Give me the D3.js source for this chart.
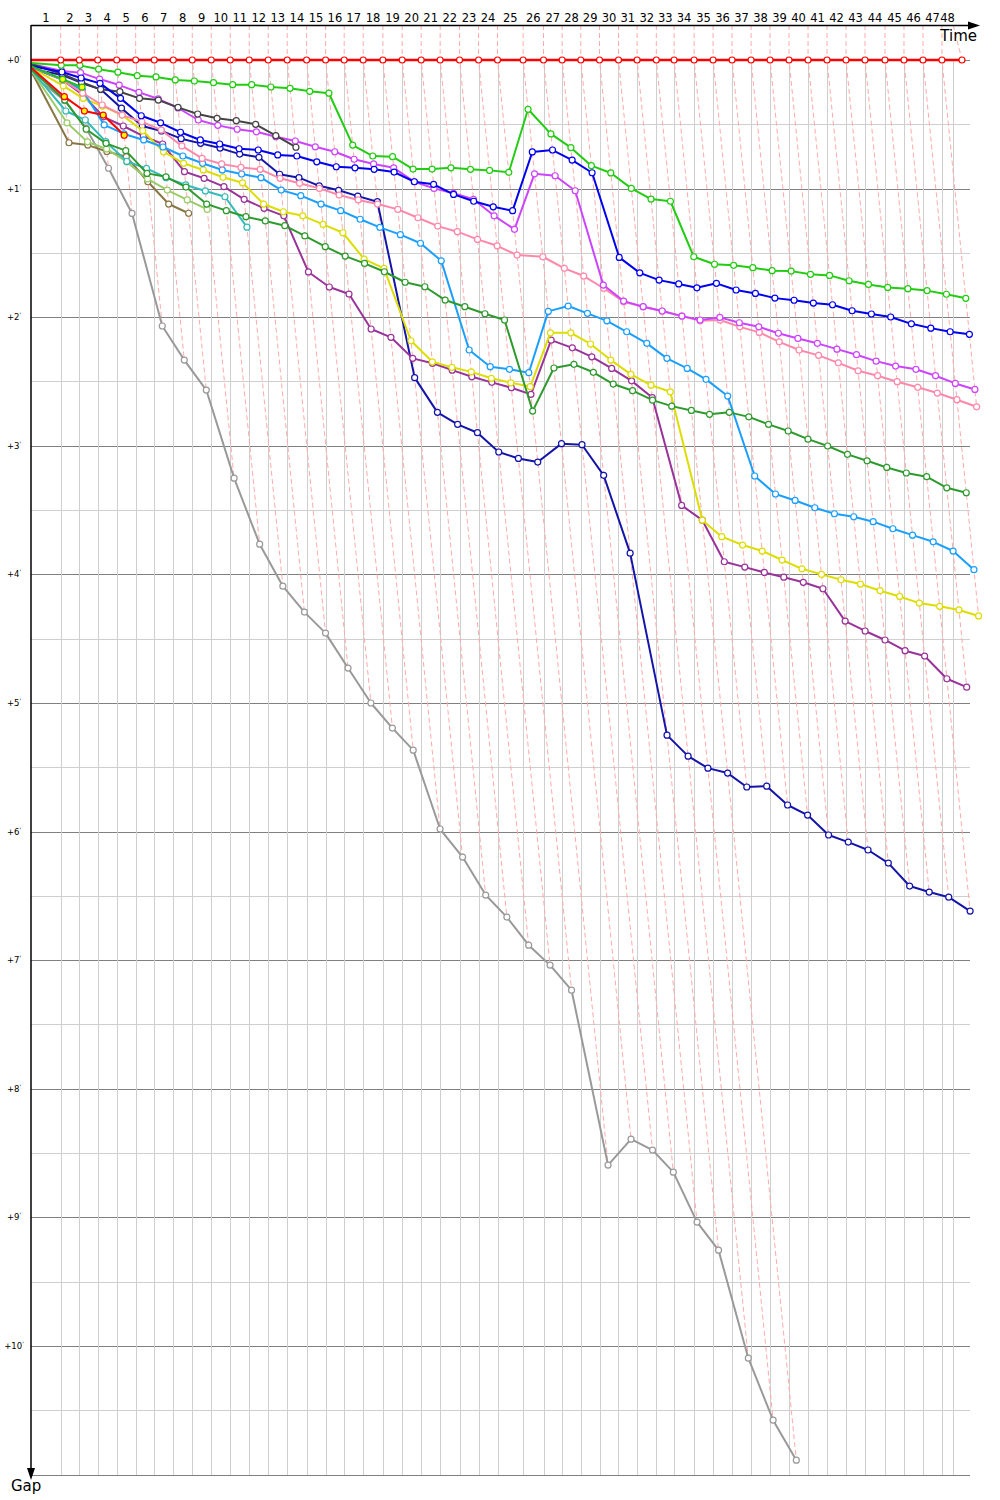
<!DOCTYPE html>
<html>
<head>
<meta charset="utf-8">
<script src="https://cdn.jsdelivr.net/npm/d3@7"></script>
<style>
  body { margin: 0; background: #fff; }
  svg { display: block; font-family: "DejaVu Sans", Verdana, sans-serif; }
</style>
</head>
<body>
<svg id="chart" width="1000" height="1500"></svg>
<script>
// leader lap durations in seconds (lap 1 .. 48)
const leaderLaps = [138.6, 86.8, 85.8, 88.6, 88.6, 86.8, 88.6, 88.6, 88.6, 88.6, 88.6, 88.6, 88.6, 90.5, 88.6, 86.8,
    88.6, 91.9, 90.0, 88.6, 88.6, 90.5, 88.6, 88.6, 119.4, 95.2, 86.8, 87.2, 87.2, 88.6, 86.8, 89.6, 83.0, 93.3,
    88.6, 88.6, 88.6, 88.6, 88.6, 88.6, 88.6, 88.6, 88.6, 93.3, 88.6, 88.6, 88.6, 93.3];
// time of the last grid line (s)
const finishTick = 4303;
const gapMinutes = [0, 1, 2, 3, 4, 5, 6, 7, 8, 9, 10];
const lapNumbers = d3.range(1, 49);

// gap to the leader in seconds, index = lap (0 = start)
const gapLeader = [0, 0, 0, 0, 0, 0, 0, 0, 0, 0, 0, 0, 0, 0, 0, 0, 0, 0, 0, 0, 0, 0, 0, 0, 0, 0, 0, 0, 0, 0, 0, 0, 0,
    0, 0, 0, 0, 0, 0, 0, 0, 0, 0, 0, 0, 0, 0, 0, 0];
const gapGreen = [1.4, 2.5, 2.5, 4.3, 5.7, 7.3, 7.9, 9.3, 9.8, 10.6, 11.5, 11.5, 12.6, 13.2, 14.6, 15.5, 39.7, 44.8,
    45.1, 50.9, 50.9, 50.3, 51.0, 51.5, 52.4, 23.0, 34.5, 40.9, 49.3, 52.7, 59.9, 64.9, 65.9, 91.8, 95.3, 95.8,
    96.9, 98.3, 98.5, 100.0, 100.5, 103.0, 104.7, 106.1, 106.7, 107.6, 109.3, 111.2];
const gapBlue = [2.8, 5.6, 8.4, 10.9, 17.9, 26.0, 29.3, 33.7, 37.3, 39.2, 41.4, 42.0, 44.3, 44.8, 47.5, 49.8, 50.3,
    51.0, 52.3, 56.8, 58.0, 62.7, 65.9, 68.5, 70.3, 42.9, 42.0, 46.7, 52.6, 92.1, 99.3, 102.7, 104.5, 106.3, 104.2,
    107.3, 108.9, 111.1, 112.1, 113.4, 114.2, 117.0, 118.5, 119.9, 123.1, 125.1, 126.8, 128.0];
const gapMagenta = [1.9, 5.1, 5.9, 8.9, 11.7, 15.1, 18.1, 22.4, 28.0, 30.5, 32.3, 33.5, 35.8, 37.8, 40.5, 42.8, 46.3,
    48.5, 50.3, 56.8, 59.9, 62.2, 65.0, 72.7, 79.0, 53.1, 54.0, 61.0, 105.0, 112.5, 115.1, 117.1, 119.5, 121.3,
    120.1, 122.6, 124.5, 127.5, 129.9, 132.2, 134.9, 137.5, 140.5, 142.8, 144.3, 147.3, 150.9, 153.7];
const gapPink = [2.8, 9.3, 15.5, 21.0, 25.7, 28.8, 32.7, 40.1, 45.9, 48.5, 50.1, 51.0, 55.2, 57.5, 59.9, 63.0, 65.3,
    67.2, 69.7, 73.6, 77.5, 80.1, 83.7, 86.7, 91.0, 91.8, 97.2, 100.8, 106.5, 112.8, 115.1, 117.1, 119.5, 121.7,
    121.3, 124.5, 127.1, 131.5, 135.3, 137.8, 141.3, 145.0, 147.3, 150.1, 152.7, 155.4, 158.5, 161.8];
const gapDarkGreen = [4.7, 18.7, 32.3, 38.9, 42.3, 52.9, 54.5, 59.3, 67.2, 70.3, 73.1, 75.1, 77.3, 82.1, 87.1, 91.5,
    94.9, 98.8, 103.7, 105.8, 112.0, 115.1, 118.4, 121.3, 163.8, 143.7, 142.0, 145.7, 151.2, 154.3, 158.7, 161.5,
    163.5, 165.3, 164.4, 166.5, 170.0, 173.1, 176.9, 180.1, 184.0, 187.0, 190.1, 192.7, 194.4, 199.6, 201.9];
const gapLightBlue = [3.3, 9.3, 14.0, 30.3, 34.5, 37.3, 40.6, 44.8, 48.2, 51.3, 53.2, 54.9, 60.7, 63.3, 67.2, 70.3,
    74.3, 78.1, 81.5, 85.5, 93.7, 135.3, 143.1, 144.3, 145.9, 117.3, 114.8, 118.2, 121.7, 126.8, 132.2, 139.2,
    143.9, 149.0, 156.8, 194.1, 202.5, 205.5, 208.9, 211.7, 213.1, 215.4, 218.7, 221.7, 224.8, 229.1, 237.8];
const gapYellow = [3.7, 12.1, 17.9, 21.5, 25.7, 33.0, 42.8, 48.2, 51.3, 54.7, 57.3, 67.2, 70.8, 72.7, 76.7, 80.6,
    92.9, 97.2, 131.0, 140.8, 143.4, 145.5, 148.5, 150.6, 152.4, 127.3, 127.3, 132.5, 140.0, 146.7, 151.7, 154.8,
    214.7, 222.4, 226.3, 229.1, 233.3, 237.4, 240.0, 242.5, 244.5, 247.6, 250.3, 253.4, 254.9, 256.6, 259.4];
const gapPurple = [3.7, 9.3, 16.3, 26.5, 30.8, 35.5, 39.2, 52.1, 55.2, 59.1, 65.0, 69.2, 72.7, 98.9, 105.9, 109.2,
    125.5, 129.4, 139.2, 141.5, 144.7, 147.8, 150.4, 152.9, 156.0, 130.7, 134.3, 138.5, 143.9, 149.7, 157.5, 207.8,
    214.7, 234.1, 236.6, 239.1, 241.3, 243.7, 246.7, 261.8, 266.4, 270.6, 275.6, 278.1, 288.7, 292.6];
const gapNavy = [4.2, 7.0, 10.7, 13.7, 22.5, 30.8, 33.1, 36.7, 38.9, 41.1, 43.9, 45.4, 53.3, 54.9, 58.7, 60.8, 63.5,
    66.1, 148.2, 164.4, 170.0, 173.9, 182.9, 185.9, 187.6, 179.0, 179.5, 193.8, 230.1, 315.0, 324.8, 330.4, 332.7,
    339.2, 338.8, 347.6, 352.3, 361.6, 364.9, 368.6, 374.7, 385.4, 388.2, 390.6, 397.1];
const gapGrey = [7.0, 19.0, 31.9, 50.5, 71.6, 124.1, 140.0, 154.0, 195.1, 225.9, 245.5, 257.6, 267.4, 283.7, 300.0,
    311.7, 322.0, 358.8, 371.9, 389.6, 399.9, 413.0, 422.3, 434.0, 515.6, 503.5, 508.6, 518.9, 542.2, 555.3, 605.7,
    634.6, 653.3];
const gapBlack = [1.9, 6.5, 10.4, 13.7, 14.8, 17.9, 18.7, 22.1, 25.2, 27.2, 28.3, 30.0, 35.3, 40.7];
const gapOlive = [6.2, 38.6, 39.7, 42.7, 45.1, 56.8, 67.2, 71.5];
const gapLightGreen = [5.5, 29.3, 38.2, 41.5, 47.6, 55.5, 60.7, 65.3, 69.7];
const gapTeal = [5.0, 23.8, 28.0, 38.1, 47.3, 50.6, 54.9, 58.3, 61.1, 63.8, 78.0];
const gapRedYellow = [3.9, 17.1, 23.8, 25.7, 35.1];
const gapGreenYellow = [3.0, 9.0, 12.7];

// drawn bottom to top
const drivers = [
    { gaps: gapGrey, color: "#999999", fill: "#fff" },
    { gaps: gapOlive, color: "#887744", fill: "#fff" },
    { gaps: gapLightGreen, color: "#99cc66", fill: "#fff" },
    { gaps: gapTeal, color: "#33bbbb", fill: "#fff" },
    { gaps: gapNavy, color: "#1414aa", fill: "#fff" },
    { gaps: gapPurple, color: "#993399", fill: "#fff" },
    { gaps: gapYellow, color: "#dddd00", fill: "#fff" },
    { gaps: gapLightBlue, color: "#1a9fff", fill: "#fff" },
    { gaps: gapDarkGreen, color: "#2e9a2e", fill: "#fff" },
    { gaps: gapPink, color: "#ff88aa", fill: "#fff" },
    { gaps: gapMagenta, color: "#cc44ff", fill: "#fff" },
    { gaps: gapBlack, color: "#444444", fill: "#fff" },
    { gaps: gapBlue, color: "#0000ee", fill: "#fff" },
    { gaps: gapGreenYellow, color: "#22bb22", fill: "#ffff00" },
    { gaps: gapRedYellow, color: "#ff0000", fill: "#ffff00" },
    { gaps: gapGreen, color: "#22cc11", fill: "#fff" },
    { gaps: gapLeader, color: "#ff0000", fill: "#fff", leader: true }
];

const leaderTimes = [0].concat(Array.from(d3.cumsum(leaderLaps)));
const lapTicks = leaderTimes.slice(1, 48).concat([finishTick]);

const svg = d3.select("#chart");
const axisX = 31, axisTop = 25, plotBottom = 1475, plotRight = 970;

const x = d3.scaleLinear().domain([0, 4400]).range([axisX, axisX + 4400 * 0.21433]);
const y = d3.scaleLinear().domain([0, 660]).range([60, 60 + 660 * 2.1433]);

// horizontal grid (half minutes light, minutes dark)
const halfTicks = d3.range(0, 661, 30);
svg.append("g").selectAll("line").data(halfTicks).enter().append("line")
    .attr("x1", axisX).attr("x2", plotRight)
    .attr("y1", d => Math.round(y(d)) + 0.5).attr("y2", d => Math.round(y(d)) + 0.5)
    .attr("stroke", d => d % 60 === 0 ? "#808080" : "#cfcfcf")
    .attr("stroke-width", 1);

// vertical lap grid
svg.append("g").selectAll("line").data(lapTicks).enter().append("line")
    .attr("x1", d => Math.round(x(d)) + 0.5).attr("x2", d => Math.round(x(d)) + 0.5)
    .attr("y1", 60).attr("y2", plotBottom)
    .attr("stroke", "#cfcfcf").attr("stroke-width", 1);

// points of every driver
drivers.forEach(dr => {
    dr.points = dr.gaps.map((g, lap) => ({ lap: lap, gap: g, px: x(leaderTimes[lap] + g), py: y(g) }));
});

// dashed lap lines joining the cars on the same lap
const lapLine = d3.line().x(d => d[0]).y(d => d[1]);
const dashG = svg.append("g");
lapNumbers.forEach(n => {
    const pts = [];
    drivers.forEach(dr => { if (dr.points[n]) pts.push(dr.points[n]); });
    pts.sort((a, b) => a.gap - b.gap);
    const coords = [[x(lapTicks[n - 1]), axisTop]].concat(pts.map(p => [p.px, p.py]));
    dashG.append("path")
        .attr("d", lapLine(coords))
        .attr("fill", "none")
        .attr("stroke", "#ffaaaa")
        .attr("stroke-width", 1)
        .attr("stroke-dasharray", "5,3");
});

// driver lines
const seriesG = svg.append("g");
drivers.forEach(dr => {
    seriesG.append("path")
        .datum(dr.points)
        .attr("d", d3.line().x(d => d.px).y(d => d.py))
        .attr("fill", "none")
        .attr("stroke", dr.color)
        .attr("stroke-width", dr.leader ? 2.6 : 2)
        .attr("stroke-linejoin", "round");
    seriesG.append("g").selectAll("circle").data(dr.points.slice(1)).enter().append("circle")
        .attr("cx", d => d.px).attr("cy", d => d.py).attr("r", 3)
        .attr("fill", dr.fill).attr("stroke", dr.color).attr("stroke-width", 1.2);
});

// axes
svg.append("line").attr("x1", axisX).attr("x2", 972).attr("y1", axisTop + 0.5).attr("y2", axisTop + 0.5)
    .attr("stroke", "#000").attr("stroke-width", 1.5);
svg.append("path").attr("d", `M980,${axisTop + 0.5} L968,${axisTop - 3.5} L968,${axisTop + 4.5} Z`).attr("fill", "#000");
svg.append("line").attr("x1", axisX).attr("x2", axisX).attr("y1", axisTop).attr("y2", plotBottom)
    .attr("stroke", "#000").attr("stroke-width", 1.5);
svg.append("path").attr("d", `M${axisX},1480 L${axisX - 4},1468 L${axisX + 4},1468 Z`).attr("fill", "#000");

svg.append("text").attr("x", 977).attr("y", 41).attr("text-anchor", "end")
    .attr("font-size", 15).text("Time");
svg.append("text").attr("x", 11).attr("y", 1491)
    .attr("font-size", 15).text("Gap");

// lap labels centred in each lap
svg.append("g").selectAll("text").data(lapNumbers).enter().append("text")
    .attr("x", n => (x(n === 1 ? 0 : lapTicks[n - 2]) + x(lapTicks[n - 1])) / 2)
    .attr("y", 21.5)
    .attr("text-anchor", "middle")
    .attr("font-size", 11.5)
    .text(n => n);

// gap labels
const gl = svg.append("g").selectAll("text").data(gapMinutes).enter().append("text")
    .attr("x", 14).attr("y", m => y(m * 60) + 3)
    .attr("text-anchor", "middle")
    .attr("font-size", 8.5);
gl.append("tspan").text(m => "+" + m);
gl.append("tspan").attr("font-size", 6).attr("dy", -3).text("'");
</script>
</body>
</html>
